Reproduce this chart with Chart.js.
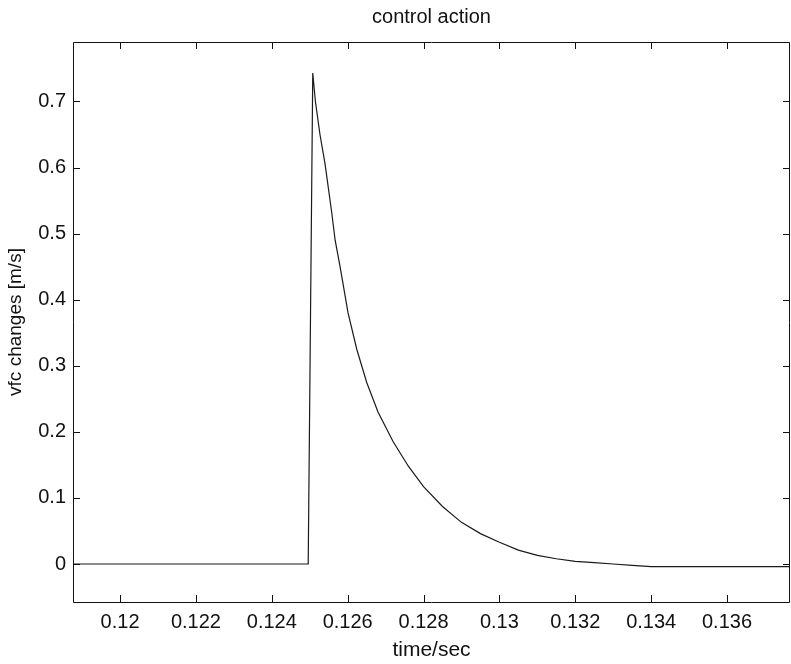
<!DOCTYPE html>
<html>
<head>
<meta charset="utf-8">
<script src="https://cdn.jsdelivr.net/npm/chart.js@4.4.1/dist/chart.umd.min.js"></script>
<style>
  html, body { margin: 0; padding: 0; background: #ffffff; }
  #wrap { width: 791px; height: 664px; }
</style>
</head>
<body>
<div id="wrap"><canvas id="c" width="791" height="664"></canvas></div>
<script>
// Data
const timeValues = [0.11876, 0.12496, 0.12508, 0.12515, 0.12527, 0.12540, 0.12558, 0.12567, 0.12580, 0.12601, 0.12624,
  0.1265, 0.1268, 0.1272, 0.1276, 0.1280, 0.1285, 0.1290, 0.1295, 0.1300, 0.1305, 0.1310, 0.1315, 0.1320,
  0.1325, 0.1330, 0.1335, 0.1340, 0.1350, 0.13766];
const vfcValues = [0, 0, 0.743, 0.700, 0.650, 0.607, 0.532, 0.490, 0.450, 0.380, 0.325,
  0.275, 0.230, 0.185, 0.148, 0.117, 0.087, 0.063, 0.046, 0.033, 0.021, 0.013, 0.008, 0.004,
  0.002, 0.000, -0.002, -0.004, -0.004, -0.004];
const xRange = [0.11876, 0.13766];
const yRange = [-0.0575, 0.79];
const xStep = 0.002;
const yStep = 0.1;
const titleText = 'control action';
const xLabel = 'time/sec';
const yLabel = 'vfc changes [m/s]';

const points = timeValues.map((t, i) => ({ x: t, y: vfcValues[i] }));
const FONT = "'Liberation Sans', Arial, Helvetica, sans-serif";

const boxTicks = {
  id: 'boxTicks',
  afterDraw(chart) {
    const { ctx, chartArea: a, scales } = chart;
    const len = 7;
    ctx.save();
    ctx.strokeStyle = '#111';
    ctx.lineWidth = 1;
    ctx.beginPath();
    ctx.rect(Math.round(a.left) + 0.5, Math.round(a.top) + 0.5, Math.round(a.right - a.left) - 1, Math.round(a.bottom - a.top));
    ctx.stroke();
    ctx.beginPath();
    scales.x.ticks.forEach(t => {
      const px = Math.round(scales.x.getPixelForValue(t.value)) + 0.5;
      ctx.moveTo(px, a.bottom); ctx.lineTo(px, a.bottom - len);
      ctx.moveTo(px, a.top); ctx.lineTo(px, a.top + len);
    });
    scales.y.ticks.forEach(t => {
      const py = Math.round(scales.y.getPixelForValue(t.value)) + 0.5;
      ctx.moveTo(a.left, py); ctx.lineTo(a.left + len, py);
      ctx.moveTo(a.right, py); ctx.lineTo(a.right - len, py);
    });
    ctx.stroke();
    ctx.restore();
  }
};

const fmt = v => String(Number(v.toFixed(4)));

new Chart(document.getElementById('c'), {
  type: 'line',
  data: {
    datasets: [{
      data: points,
      borderColor: '#1a1a1a',
      borderWidth: 1.2,
      pointRadius: 0,
      tension: 0,
      fill: false
    }]
  },
  options: {
    responsive: false,
    animation: false,
    layout: { padding: { left: 0, right: 1, top: 0, bottom: 0 } },
    plugins: {
      legend: { display: false },
      tooltip: { enabled: false },
      title: {
        display: true,
        fullSize: false,
        text: titleText,
        color: '#111',
        font: { family: FONT, size: 20, weight: 'normal' },
        padding: { top: 5, bottom: 13 }
      }
    },
    scales: {
      x: {
        type: 'linear',
        min: xRange[0],
        max: xRange[1],
        grid: { display: false, drawTicks: false },
        border: { display: false },
        ticks: {
          stepSize: xStep,
          includeBounds: false,
          autoSkip: false,
          maxRotation: 0,
          padding: 8,
          color: '#111',
          font: { family: FONT, size: 20 },
          callback: v => fmt(v)
        },
        title: {
          display: true,
          text: xLabel,
          color: '#111',
          font: { family: FONT, size: 21 },
          padding: { top: 0, bottom: 1 }
        },
        afterFit: s => { s.height = 62; }
      },
      y: {
        type: 'linear',
        min: yRange[0],
        max: yRange[1],
        grid: { display: false, drawTicks: false },
        border: { display: false },
        ticks: {
          stepSize: yStep,
          includeBounds: false,
          padding: 7,
          color: '#111',
          font: { family: FONT, size: 20 },
          callback: v => fmt(v)
        },
        title: {
          display: true,
          text: yLabel,
          color: '#111',
          font: { family: FONT, size: 19 },
          padding: { top: 4, bottom: 0 }
        },
        afterFit: s => { s.width = 73; }
      }
    }
  },
  plugins: [boxTicks]
});
</script>
</body>
</html>
